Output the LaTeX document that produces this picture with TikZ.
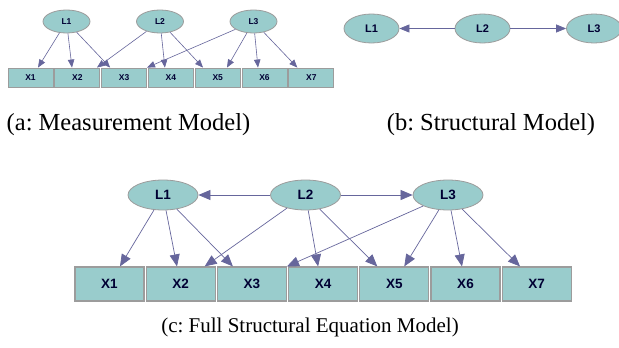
\documentclass[tikz,border=0pt]{standalone}
\usepackage{fontspec}
\setmainfont{Liberation Serif}
\newfontfamily\labfont{Liberation Sans}
\usetikzlibrary{arrows.meta,shapes.geometric}
\definecolor{fillc}{HTML}{99CCCC}
\definecolor{edgec}{HTML}{9C9C9C}
\definecolor{arrc}{HTML}{66669C}
\definecolor{txtc}{HTML}{000033}
\frenchspacing
\begin{document}
\begin{tikzpicture}[x=1pt,y=-1pt,
  latent/.style={ellipse, draw=edgec, fill=fillc, line width=0.8pt, inner sep=0pt, text=txtc},
  observed/.style={rectangle, draw=edgec, fill=fillc, line width=1.2pt, inner sep=0pt, text=txtc},
  latc/.style={latent, minimum width=70pt, minimum height=30pt, font=\labfont\bfseries\fontsize{13.5}{15}\selectfont},
  obsc/.style={observed, minimum width=69pt, minimum height=34pt, font=\labfont\bfseries\fontsize{13.5}{15}\selectfont},
  lata/.style={latent, minimum width=47pt, minimum height=23pt, font=\labfont\bfseries\fontsize{8.5}{10}\selectfont},
  obsa/.style={observed, line width=0.9pt, minimum width=45pt, minimum height=19pt, font=\labfont\bfseries\fontsize{8.5}{10}\selectfont},
  latb/.style={latent, minimum width=55pt, minimum height=29pt, font=\labfont\bfseries\fontsize{11}{13}\selectfont},
  arrc/.style={draw=arrc, line width=0.7pt, -{Triangle[length=12pt,width=10pt]}},
  arra/.style={draw=arrc, line width=0.6pt, -{Triangle[length=8pt,width=6.5pt]}},
  arrb/.style={draw=arrc, line width=0.7pt, -{Triangle[length=10pt,width=8pt]}},
  captxt/.style={inner sep=0pt, font=\fontsize{21}{25}\selectfont},
  captab/.style={inner sep=0pt, font=\fontsize{24.5}{28}\selectfont}
]
\useasboundingbox[fill=white] (0,0) rectangle (619,348);

% ---------- (a) measurement model ----------
\foreach \i in {1,...,7} {
  \node[obsa] (aX\i) at ({30.5+(\i-1)*46.8},77.5) {X\i};
}
\node[lata] (aL1) at (66.5,21.5) {L1};
\node[lata] (aL2) at (160,21.5) {L2};
\node[lata] (aL3) at (253.5,21.5) {L3};
\draw[arra] (aL1) -- ([xshift=7.5pt]aX1.north);
\draw[arra] (aL1) -- ([xshift=-5.3pt]aX2.north);
\draw[arra] (aL1) -- ([xshift=-14pt]aX3.north);
\draw[arra] (aL2) -- ([xshift=19.7pt]aX2.north);
\draw[arra] (aL2) -- ([xshift=-6pt]aX4.north);
\draw[arra] (aL2) -- ([xshift=-14.7pt]aX5.north);
\draw[arra] (aL3) -- (aX3.north east);
\draw[arra] (aL3) -- ([xshift=9.3pt]aX5.north);
\draw[arra] (aL3) -- ([xshift=-6.5pt]aX6.north);
\draw[arra] (aL3) -- ([xshift=-14pt]aX7.north);
\node[captab] (capa) at (128.5,124.5) {(a: Measurement Model)};

% ---------- (b) structural model ----------
\node[latb] (bL1) at (371.5,28.5) {L1};
\node[latb] (bL2) at (482.5,28.5) {L2};
\node[latb] (bL3) at (594,28.5) {L3};
\draw[arrb] (bL2) -- (bL1);
\draw[arrb] (bL2) -- (bL3);
\node[captab] (capb) at (491,124.5) {(b: Structural Model)};

% ---------- (c) full SEM ----------
\foreach \i in {1,...,7} {
  \node[obsc] (cX\i) at ({109.5+(\i-1)*71.2},284) {X\i};
}
\node[latc] (cL1) at (163,195) {L1};
\node[latc] (cL2) at (305.5,195) {L2};
\node[latc] (cL3) at (448,195) {L3};
\draw[arrc] (cL2) -- (cL1);
\draw[arrc] (cL2) -- (cL3);
\draw[arrc] (cL1) -- ([xshift=10.5pt]cX1.north);
\draw[arrc] (cL1) -- ([xshift=-3.7pt]cX2.north);
\draw[arrc] (cL1) -- ([xshift=-19pt]cX3.north);
\draw[arrc] (cL2) -- ([xshift=24pt]cX2.north);
\draw[arrc] (cL2) -- ([xshift=-5pt]cX4.north);
\draw[arrc] (cL2) -- ([xshift=-17pt]cX5.north);
\draw[arrc] (cL3) -- (cX3.north east);
\draw[arrc] (cL3) -- ([xshift=10pt]cX5.north);
\draw[arrc] (cL3) -- ([xshift=-3.5pt]cX6.north);
\draw[arrc] (cL3) -- ([xshift=-16.7pt]cX7.north);
\node[captxt] (capc) at (310,327) {(c: Full Structural Equation Model)};
\end{tikzpicture}
\end{document}
